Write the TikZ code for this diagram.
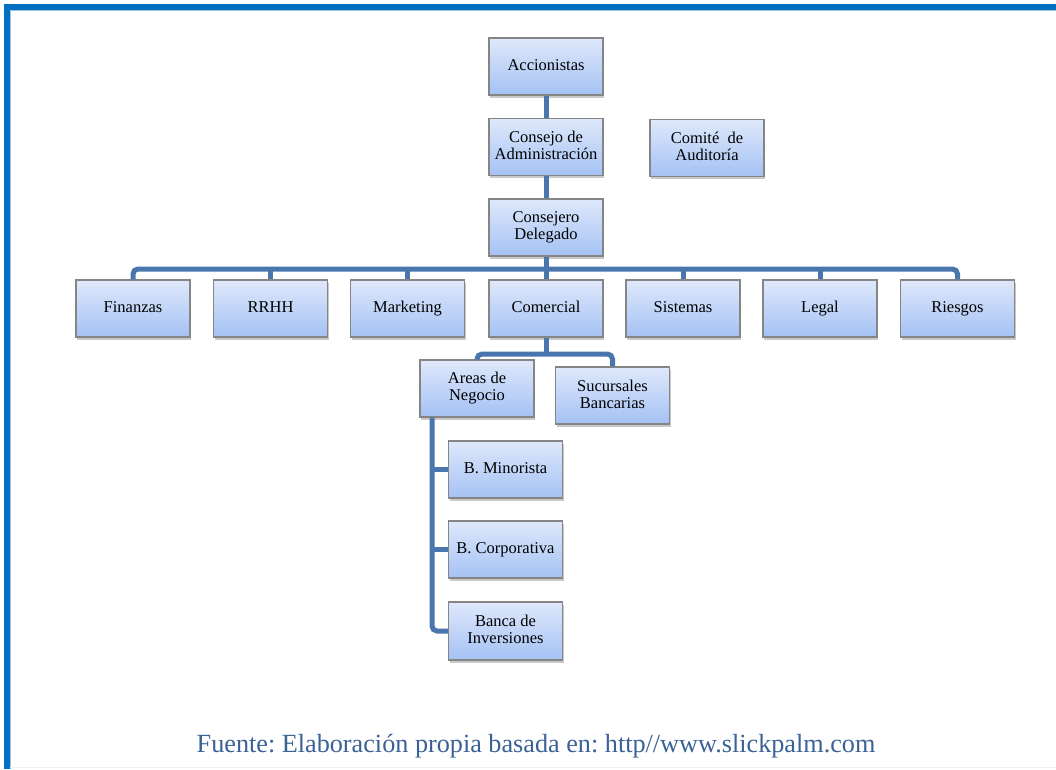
\documentclass[tikz,border=0pt]{standalone}
\usepackage{fontspec}
\setmainfont{Liberation Serif}
\usetikzlibrary{shadows}
\definecolor{framec}{HTML}{0070C0}
\definecolor{framelight}{HTML}{9DC3E6}
\definecolor{linkc}{HTML}{4A76AE}
\definecolor{boxtop}{HTML}{DFE8FB}
\definecolor{boxbot}{HTML}{A4C2F4}
\definecolor{boxedge}{HTML}{858585}
\definecolor{notec}{HTML}{3B6296}
% strut balanced around the cap height of the box font
\newcommand\boxstrut{\rule[-2.5pt]{0pt}{13.5pt}}
\tikzset{
  orgbox/.style={draw=boxedge, line width=1.3pt, top color=boxtop, bottom color=boxbot,
    minimum width=114pt, minimum height=57pt, inner sep=2pt, align=center,
    font=\fontsize{16.5}{17}\selectfont,
    execute at begin node={\boxstrut}, execute at end node={\boxstrut},
    drop shadow={shadow xshift=1pt, shadow yshift=-2.5pt, opacity=0.35, fill=black!60}},
  link/.style={draw=linkc, line width=5pt, rounded corners=5pt},
}
\begin{document}
\frenchspacing
\begin{tikzpicture}[x=1pt, y=-1pt]
\useasboundingbox (0,0) rectangle (1056,769);
% page frame
\fill[white] (0,0) rectangle (1056,769);
\fill[framec] (4,4) rectangle (1056,9.5);
\fill[framec] (4,4) rectangle (9.5,769);
\draw[framelight, line width=0.8pt] (10,10) -- (1056,10);
\draw[framelight, line width=0.8pt] (10,10) -- (10,769);
\draw[black!6, line width=1pt] (10,767.5) -- (1056,767.5);

% rails of the connectors
\coordinate (busy) at (0,269);
\coordinate (comy) at (0,354);
\coordinate (railx) at (432,0);

% boxes
\node[orgbox] (acc) at (546,66.5) {Accionistas};
\node[orgbox] (cons) at (546,147) {Consejo de\\Administración};
\node[orgbox] (audit) at (707,148) {Comité~ de\\Auditoría};
\node[orgbox] (del) at (546,227.5) {Consejero\\Delegado};

\node[orgbox] (fin) at (133,308.5) {Finanzas};
\node[orgbox] (rrhh) at (270.5,308.5) {RRHH};
\node[orgbox] (mkt) at (407.5,308.5) {Marketing};
\node[orgbox] (com) at (546,308.5) {Comercial};
\node[orgbox] (sis) at (683,308.5) {Sistemas};
\node[orgbox] (leg) at (820,308.5) {Legal};
\node[orgbox] (rie) at (957.5,308.5) {Riesgos};

\node[orgbox] (areas) at (477,388.5) {Areas de\\Negocio};
\node[orgbox] (suc) at (612.5,395.5) {Sucursales\\Bancarias};

\node[orgbox] (mino) at (505.5,469.5) {B. Minorista};
\node[orgbox] (corp) at (505.5,549.5) {B. Corporativa};
\node[orgbox, minimum height=58pt] (inv) at (505.5,631) {Banca de\\Inversiones};

% connectors
\draw[link] (acc.south) -- (cons.north);
\draw[link] (cons.south) -- (del.north);
\draw[link] (del.south) -- (del.south |- busy);
\draw[link] (fin.north) -- (fin.north |- busy) -- (rie.north |- busy) -- (rie.north);
\foreach \n in {rrhh,mkt,com,sis,leg}
  \draw[link] (\n.north) -- (\n.north |- busy);
\draw[link] (com.south) -- (com.south |- comy);
\draw[link] (areas.north) -- (areas.north |- comy) -- (suc.north |- comy) -- (suc.north);
\draw[link] (railx |- areas.south) -- (railx |- inv.west) -- (inv.west);
\draw[link] (railx |- mino.west) -- (mino.west);
\draw[link] (railx |- corp.west) -- (corp.west);

% source note
\node[text=notec, font=\fontsize{26.2}{30}\selectfont, anchor=base] (src) at (536,752)
  {Fuente: Elaboración propia basada en: http//www.slickpalm.com};
\end{tikzpicture}
\end{document}
